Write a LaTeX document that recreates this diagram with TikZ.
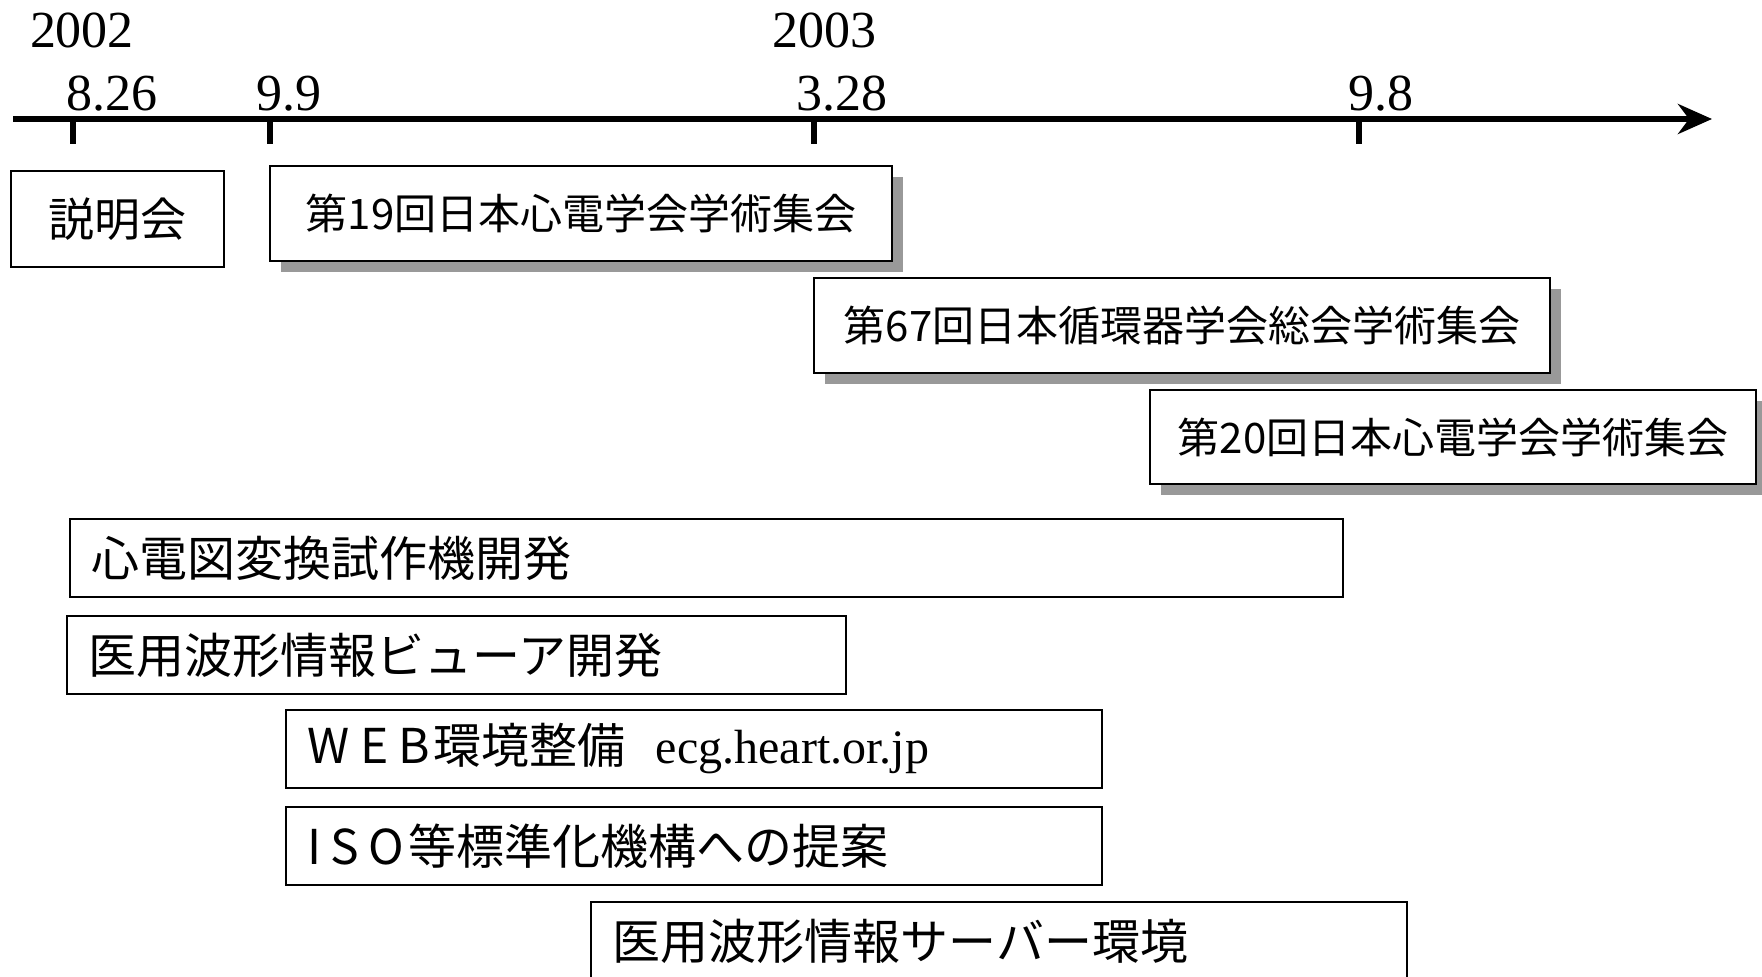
\documentclass[tikz,border=0pt]{standalone}
\usepackage{fontspec}
\setmainfont{Liberation Serif}
\newfontfamily\jpfont{Noto Sans CJK JP}
\usetikzlibrary{arrows.meta,positioning,shadows}

\begin{document}
\begin{tikzpicture}[x=1pt, y=-1pt,
  yr/.style={inner sep=0pt, font=\fontsize{52}{52}\selectfont},
  tck/.style={line width=6pt},
  mtg/.style={draw, line width=2.5pt, fill=white, inner sep=0pt, font=\jpfont\fontsize{42}{42}\selectfont,
    drop shadow={shadow xshift=11pt, shadow yshift=-11pt, fill=black!40, opacity=1}},
  task/.style={draw, line width=1.8pt, anchor=north west, inner xsep=22pt, inner ysep=0pt, align=left,
    minimum height=78pt, font=\jpfont\fontsize{48}{48}\selectfont}]
\useasboundingbox (0,0) rectangle (1762,977);

% time axis
\coordinate (start) at (13,119);
\coordinate (end) at (1712,119);
\draw[line width=6pt, -{Stealth[length=34pt, width=30pt]}] (start) -- (end);

\coordinate (t0826) at (73,119);
\coordinate (t0909) at (270,119);
\coordinate (t0328) at (814,119);
\coordinate (t0908) at (1359,119);
\foreach \t in {t0826,t0909,t0328,t0908}
  \draw[tck] (\t) -- ++(0,25);

\node[yr] (y2002) at (82,30) {2002};
\node[yr] (y2003) at (824,30) {2003};
\node[yr] (d0826) at (112,94) {8.26};
\node[yr] (d0909) at (289,94) {9.9};
\node[yr] (d0328) at (842,94) {3.28};
\node[yr] (d0908) at (1381,94) {9.8};

% meetings
\node[draw, line width=1.8pt, minimum width=213pt, minimum height=96pt, inner sep=0pt,
  font=\jpfont\fontsize{46}{46}\selectfont] (brief) at (117.5,219) {説明会};
\node[mtg, minimum width=622pt, minimum height=95pt] (jsecg19) at (581,213.5) {第19回日本心電学会学術集会};
\node[mtg, minimum width=736pt, minimum height=95pt] (jcs67) at (1182,325.5) {第67回日本循環器学会総会学術集会};
\node[mtg, minimum width=606pt, minimum height=94pt] (jsecg20) at (1453,437) {第20回日本心電学会学術集会};

% work items
\node[task, text width=1229pt] (conv) at (69,518) {心電図変換試作機開発};
\node[task, text width=735pt] (viewer) at (66,615) {医用波形情報ビューア開発};
\node[task, text width=772pt] (web) at (285,709) {W\hspace{10pt}E\hspace{10pt}B\hspace{4pt}環境整備\hspace{30pt}{\rmfamily ecg.heart.or.jp}};
\node[task, text width=772pt] (iso) at (285,806) {I\hspace{9pt}S\hspace{9pt}O\hspace{4pt}等標準化機構への提案};
\node[task, text width=772pt] (server) at (590,901) {医用波形情報サーバー環境};
\end{tikzpicture}
\end{document}
